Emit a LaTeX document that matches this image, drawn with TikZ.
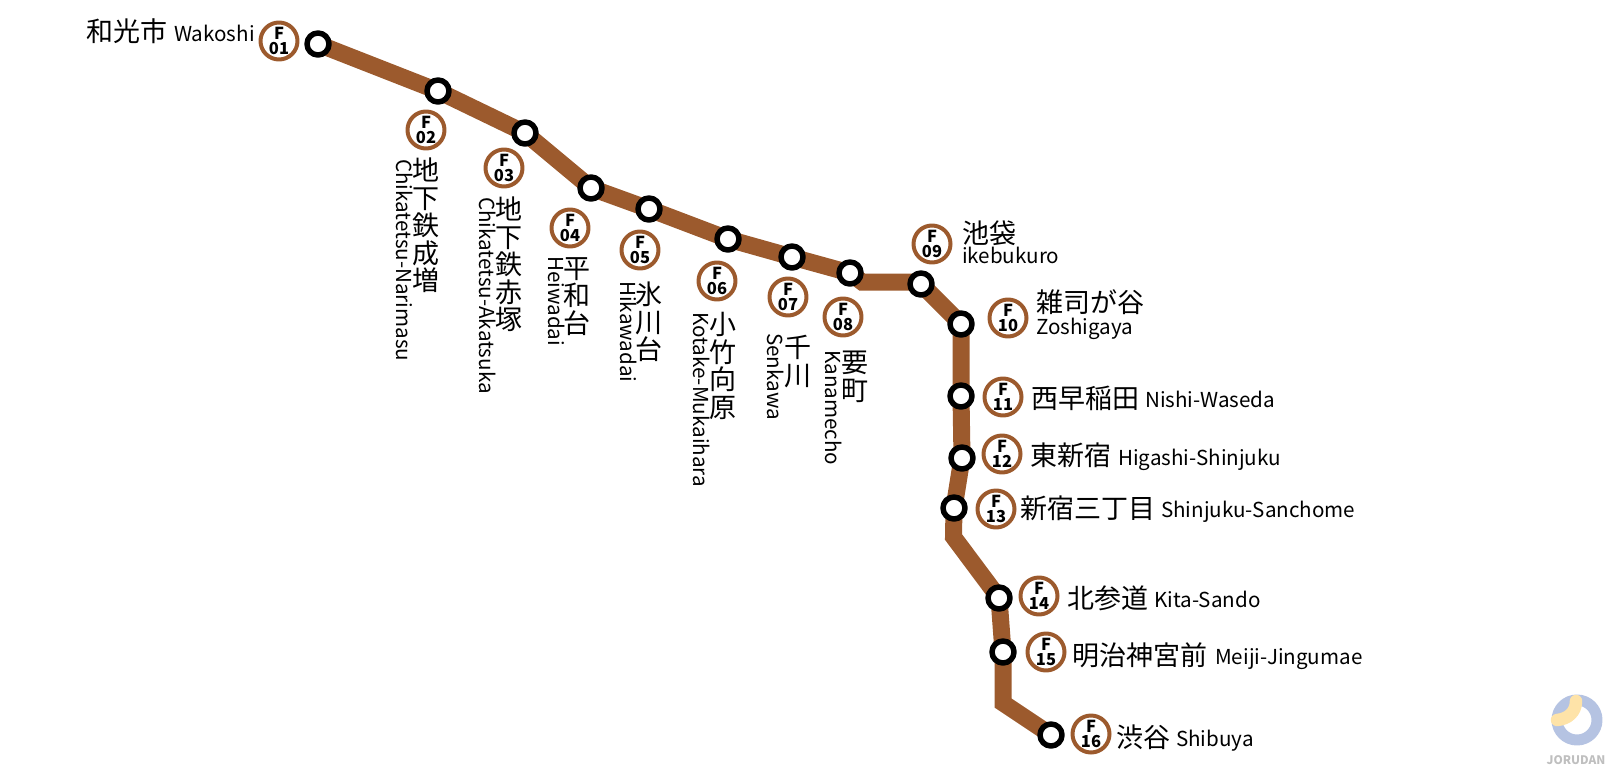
\documentclass[tikz,border=0pt]{standalone}
\usepackage{fontspec}
\setmainfont{Noto Sans CJK JP}
\usetikzlibrary{backgrounds}
\definecolor{fukutoshin}{HTML}{9C5A2D}
\definecolor{logoblue}{HTML}{B5C3E2}
\definecolor{logoyellow}{HTML}{FEE3A8}
\tikzset{
	stn/.style={circle,draw=black,fill=white,line width=5.5pt,minimum size=22pt,inner sep=0pt,outer sep=0pt},
	badge/.style={circle,draw=fukutoshin,fill=white,line width=4pt,minimum size=37pt,inner sep=0pt,align=center,font=\fontsize{16.5}{14.5}\selectfont\bfseries},
	kanji/.style={inner sep=0pt,anchor=base west,font=\fontsize{27}{27}\selectfont},
	kanjiv/.style={inner sep=0pt,anchor=north,align=center,font=\fontsize{27}{27.5}\selectfont},
	roma/.style={inner sep=0pt,anchor=base west,font=\fontsize{20.6}{20}\selectfont},
	romav/.style={inner sep=0pt,anchor=west,rotate=-90,font=\fontsize{20.6}{20}\selectfont},
	track/.style={draw=fukutoshin,line width=17pt}
}
\begin{document}
\begin{tikzpicture}[line cap=round,line join=round,x=1pt,y=-1pt]
		\useasboundingbox (0,0) rectangle (1620,774);
		% stations
		\node [stn] (f01) at (318,44) {};
		\node [stn] (f02) at (438,91) {};
		\node [stn] (f03) at (525,133) {};
		\node [stn] (f04) at (591,188) {};
		\node [stn] (f05) at (649,209) {};
		\node [stn] (f06) at (728,239) {};
		\node [stn] (f07) at (792,257) {};
		\node [stn] (f08) at (850,273) {};
		\node [stn] (f09) at (921,284) {};
		\node [stn] (f10) at (961,324) {};
		\node [stn] (f11) at (961,396) {};
		\node [stn] (f12) at (962,458) {};
		\node [stn] (f13) at (954,508) {};
		\node [stn] (f14) at (999,598) {};
		\node [stn] (f15) at (1003,652) {};
		\node [stn] (f16) at (1051,735) {};
		\coordinate (bendA) at (862,282);
		\coordinate (bendB) at (953.5,537);
		\coordinate (bendC) at (1003,703);
		\begin{pgfonlayer}{background}
			\draw [track] (f01.center) -- (f02.center) -- (f03.center) -- (f04.center) -- (f05.center) -- (f06.center) -- (f07.center) -- (f08.center) -- (bendA) -- (f09.center |- bendA) -- (f09.center) -- (f10.center) -- (f11.center) -- (f12.center) -- (f13.center) -- (bendB) -- (f14.center) -- (f15.center) -- (bendC) -- (f16.center);
		\end{pgfonlayer}
		% number badges
		\node [badge] (b01) at (279,41) {F\\01};
		\node [badge] (b02) at (426,130) {F\\02};
		\node [badge] (b03) at (504,168) {F\\03};
		\node [badge] (b04) at (570,228) {F\\04};
		\node [badge] (b05) at (640,250) {F\\05};
		\node [badge] (b06) at (717,281) {F\\06};
		\node [badge] (b07) at (788,297) {F\\07};
		\node [badge] (b08) at (843,317) {F\\08};
		\node [badge] (b09) at (932,244) {F\\09};
		\node [badge] (b10) at (1008,318) {F\\10};
		\node [badge] (b11) at (1003,397) {F\\11};
		\node [badge] (b12) at (1002,454) {F\\12};
		\node [badge] (b13) at (996,509) {F\\13};
		\node [badge] (b14) at (1039,596) {F\\14};
		\node [badge] (b15) at (1046,652) {F\\15};
		\node [badge] (b16) at (1091,734) {F\\16};
		% names
		\node [kanji] (n01) at (86,41) {和光市};
		\node [roma] (r01) at (174,41) {Wakoshi};
		\node [kanjiv] (n02) at (426,158) {地\\下\\鉄\\成\\増};
		\node [romav] (r02) at (404.5,159) {Chikatetsu-Narimasu};
		\node [kanjiv] (n03) at (509,197) {地\\下\\鉄\\赤\\塚};
		\node [romav] (r03) at (487.5,197) {Chikatetsu-Akatsuka};
		\node [kanjiv] (n04) at (577,257) {平\\和\\台};
		\node [romav] (r04) at (556.5,256) {Heiwadai};
		\node [kanjiv] (n05) at (649,282) {氷\\川\\台};
		\node [romav] (r05) at (628.5,281) {Hikawadai};
		\node [kanjiv] (n06) at (723,312) {小\\竹\\向\\原};
		\node [romav] (r06) at (701.5,312) {Kotake-Mukaihara};
		\node [kanjiv] (n07) at (798,335) {千\\川};
		\node [romav] (r07) at (775.5,333) {Senkawa};
		\node [kanjiv] (n08) at (855,351) {要\\町};
		\node [romav] (r08) at (833.5,350) {Kanamecho};
		\node [kanji] (n09) at (962,243) {池袋};
		\node [roma] (r09) at (962,263) {ikebukuro};
		\node [kanji] (n10) at (1036,312) {雑司が谷};
		\node [roma] (r10) at (1036,334) {Zoshigaya};
		\node [kanji] (n11) at (1031,408) {西早稲田};
		\node [roma] (r11) at (1145,407) {Nishi-Waseda};
		\node [kanji] (n12) at (1030,465) {東新宿};
		\node [roma] (r12) at (1118,465) {Higashi-Shinjuku};
		\node [kanji] (n13) at (1020,518) {新宿三丁目};
		\node [roma] (r13) at (1161,517) {Shinjuku-Sanchome};
		\node [kanji] (n14) at (1067,608) {北参道};
		\node [roma] (r14) at (1154,607) {Kita-Sando};
		\node [kanji] (n15) at (1072,665) {明治神宮前};
		\node [roma] (r15) at (1215,664) {Meiji-Jingumae};
		\node [kanji] (n16) at (1116,747) {渋谷};
		\node [roma] (r16) at (1176,746) {Shibuya};
		% logo
		\draw [logoblue,line width=11pt,line cap=butt] (1577,720) circle (20pt);
		\draw [logoyellow,line width=12.5pt] (1576,701) .. controls (1576,712) and (1568,719) .. (1557,720);
		\node [inner sep=0pt,text=black!25,font=\fontsize{11.8}{12}\selectfont\bfseries] (logotext) at (1576,760) {JORUDAN};
\end{tikzpicture}
\end{document}
